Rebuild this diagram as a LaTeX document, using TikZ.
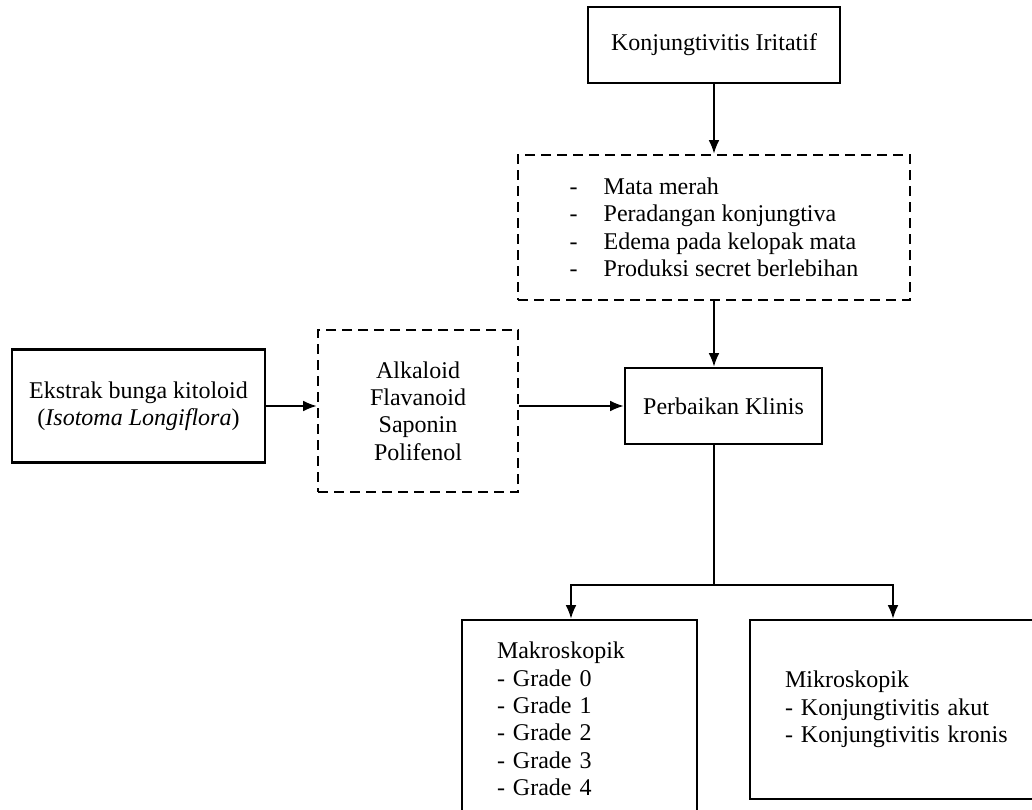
\documentclass[tikz,border=0pt]{standalone}
\usepackage{fontspec}
\setmainfont{Liberation Serif}
\usetikzlibrary{arrows.meta}

\begin{document}
\begin{tikzpicture}[%
      x=0.75pt, y=-0.75pt,
      every node/.style={font=\fontsize{18}{20.6}\selectfont, inner sep=0pt},
      kotak/.style={rectangle, draw, line width=2.2pt, align=center},
      putus/.style={rectangle, draw, line width=2.2pt, dash pattern=on 7.5pt off 4.5pt, align=center},
      panah/.style={->, line width=1pt},
      >={Latex[length=10pt,width=8pt]}
    ]
    \useasboundingbox (0,0) rectangle (1032,810);
    \node [kotak, minimum width=189pt, minimum height=57pt] (iritatif) at (714,45) {Konjungtivitis Iritatif};
    \node [putus, align=left, minimum width=294pt, minimum height=108.75pt] (gejala) at (714,227.5)
      {\makebox[25.5pt][l]{-}Mata merah\\
       \makebox[25.5pt][l]{-}Peradangan konjungtiva\\
       \makebox[25.5pt][l]{-}Edema pada kelopak mata\\
       \makebox[25.5pt][l]{-}Produksi secret berlebihan};
    \node [kotak, minimum width=189.75pt, minimum height=84.75pt] (ekstrak) at (138.5,406)
      {Ekstrak bunga kitoloid\\(\textit{Isotoma Longiflora})};
    \node [putus, minimum width=150pt, minimum height=121.5pt] (senyawa) at (418,411)
      {Alkaloid\\Flavanoid\\Saponin\\Polifenol};
    \node [kotak, minimum width=147.75pt, minimum height=57pt] (perbaikan) at (723.5,406) {Perbaikan Klinis};
    \node [kotak, align=left, text width=123.75pt, inner xsep=26.25pt, minimum width=176.25pt, minimum height=148.5pt] (makro) at (579.5,719)
      {Makroskopik\\
       -\hspace{6pt}Grade~0\\
       -\hspace{6pt}Grade~1\\
       -\hspace{6pt}Grade~2\\
       -\hspace{6pt}Grade~3\\
       -\hspace{6pt}Grade~4};
    \node [kotak, align=left, text width=168.75pt, inner xsep=26.25pt, minimum width=221.25pt, minimum height=134.25pt] (mikro) at (897.5,709.5)
      {Mikroskopik\\
       -\hspace{6pt}Konjungtivitis akut\\
       -\hspace{6pt}Konjungtivitis kronis};
    \coordinate (cabang) at (714,585);
    \coordinate (kiri) at (571,585);
    \coordinate (kanan) at (893,585);
    % alur
    \draw [panah] (iritatif.south) -- (iritatif.south |- gejala.north);
    \draw [panah] (gejala.south) -- (gejala.south |- perbaikan.north);
    \draw [panah] (ekstrak.east) -- (ekstrak.east -| senyawa.west);
    \draw [panah] (senyawa.east |- perbaikan.west) -- (perbaikan.west);
    \draw [line width=1pt] (gejala.south |- perbaikan.south) -- (cabang);
    \draw [panah] (cabang) -- (kiri) -- (kiri |- makro.north);
    \draw [panah] (cabang) -- (kanan) -- (kanan |- mikro.north);
  \end{tikzpicture}
\end{document}
